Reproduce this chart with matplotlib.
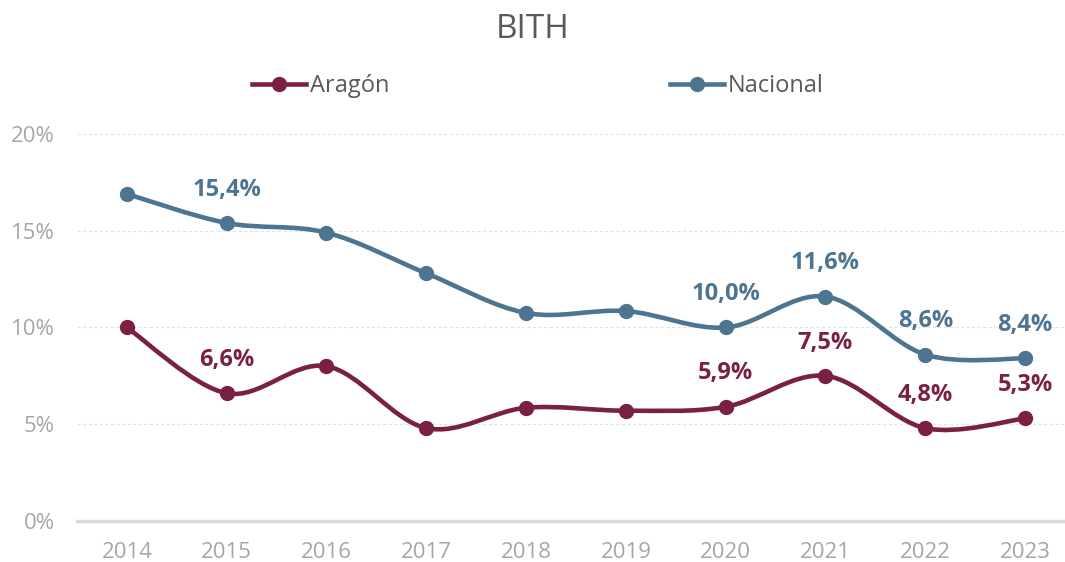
import matplotlib

matplotlib.use("Agg")
import matplotlib.pyplot as plt
from matplotlib.lines import Line2D
from matplotlib.path import Path
from matplotlib.patches import PathPatch

years = ["2014", "2015", "2016", "2017", "2018", "2019", "2020", "2021", "2022", "2023"]
aragon = [10.0, 6.6, 8.0, 4.8, 5.85, 5.7, 5.9, 7.5, 4.8, 5.3]
nacional = [16.9, 15.4, 14.9, 12.8, 10.75, 10.85, 10.0, 11.6, 8.6, 8.4]
aragon_labeled = [1, 6, 7, 8, 9]
nacional_labeled = [1, 6, 7, 8, 9]

C_ARAGON = "#7B2045"
C_NACIONAL = "#4D7591"
C_TEXT = "#595959"
C_TICK = "#A6A6A6"

plt.rcParams["font.family"] = ["Open Sans", "DejaVu Sans"]


def smooth_path(xs, ys, t=1 / 6):
    # Catmull-Rom style bezier, close to Excel's smoothed line
    verts = [(xs[0], ys[0])]
    codes = [Path.MOVETO]
    n = len(xs)
    for i in range(n - 1):
        x0, y0 = (xs[i - 1], ys[i - 1]) if i > 0 else (xs[i], ys[i])
        x1, y1 = xs[i], ys[i]
        x2, y2 = xs[i + 1], ys[i + 1]
        x3, y3 = (xs[i + 2], ys[i + 2]) if i + 2 < n else (x2, y2)
        verts += [(x1 + (x2 - x0) * t, y1 + (y2 - y0) * t),
                  (x2 - (x3 - x1) * t, y2 - (y3 - y1) * t),
                  (x2, y2)]
        codes += [Path.CURVE4] * 3
    return Path(verts, codes)


fig = plt.figure(figsize=(10.65, 5.62), dpi=100)
ax = fig.add_axes([0.0723, 0.073, 0.9277, 0.6886])

xs = list(range(len(years)))
for vals, color, labeled in [(aragon, C_ARAGON, aragon_labeled),
                             (nacional, C_NACIONAL, nacional_labeled)]:
    ax.add_patch(PathPatch(smooth_path(xs, vals), fill=False, edgecolor=color,
                           lw=3.3, capstyle="round", zorder=3))
    ax.plot(xs, vals, "o", color=color, markersize=10, zorder=4)
    for i in labeled:
        ax.annotate(f"{vals[i]:.1f}%".replace(".", ","), (xs[i], vals[i]),
                    xytext=(0, 24), textcoords="offset points", ha="center",
                    va="center", fontsize=17, fontweight="bold", color=color)

ax.set_xlim(-0.5, 9.4)
ax.set_ylim(0, 20)
ax.set_xticks(xs)
ax.set_xticklabels(years)
ax.set_yticks([0, 5, 10, 15, 20])
ax.set_yticklabels([f"{v}%" for v in [0, 5, 10, 15, 20]])
ax.tick_params(length=0, labelsize=16, colors=C_TICK)
ax.tick_params(axis="x", pad=15)
ax.tick_params(axis="y", pad=16)
ax.grid(axis="y", color="#E3E3E3", lw=0.8, linestyle=(0, (3, 2)))
for s in ["top", "right", "left"]:
    ax.spines[s].set_visible(False)
ax.spines["bottom"].set_color("#D9D9D9")
ax.spines["bottom"].set_linewidth(2.5)
ax.set_axisbelow(True)

fig.text(0.5, 1 - 30 / 562, "BITH", ha="center", va="center", fontsize=24,
         color=C_TEXT)

handles = [Line2D([], [], color=C_ARAGON, lw=3.3, marker="o", markersize=10),
           Line2D([], [], color=C_NACIONAL, lw=3.3, marker="o", markersize=10)]
leg = fig.legend(handles, ["Aragón", "Nacional"], loc="center",
                 bbox_to_anchor=(0.505, 1 - 86 / 562), ncol=2, frameon=False,
                 fontsize=17, handlelength=2.3, handletextpad=0.15,
                 columnspacing=11.9)
for t in leg.get_texts():
    t.set_color(C_TEXT)

fig.savefig("out.png")
